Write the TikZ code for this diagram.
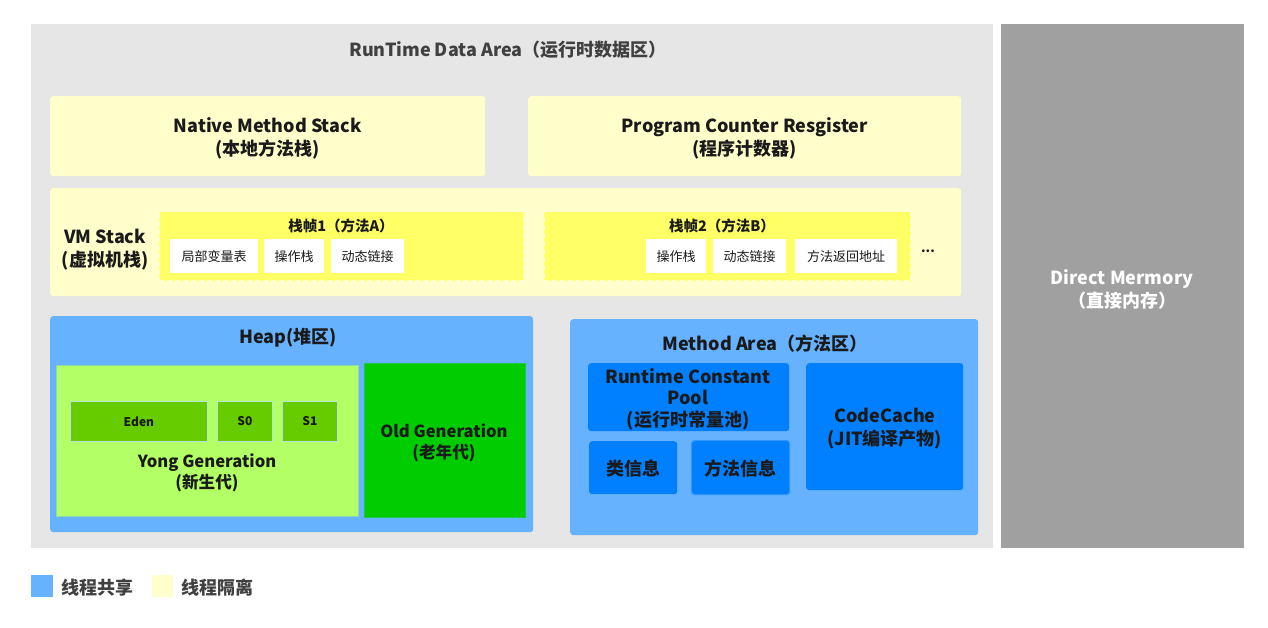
\documentclass[tikz,border=0pt]{standalone}
\usepackage{fontspec}
\setmainfont{Noto Sans CJK SC}
\usetikzlibrary{positioning}
\definecolor{bggray}{HTML}{E6E6E6}
\definecolor{dmgray}{HTML}{A0A0A0}
\definecolor{ltyellow}{HTML}{FFFFCC}
\definecolor{frameyellow}{HTML}{FFFF66}
\definecolor{heapblue}{HTML}{66B2FF}
\definecolor{deepblue}{HTML}{007FFF}
\definecolor{younggreen}{HTML}{B3FF66}
\definecolor{edengreen}{HTML}{66CC00}
\definecolor{oldgreen}{HTML}{00CC00}
\definecolor{txt}{HTML}{1A1A1A}
\definecolor{titlegray}{HTML}{404040}
\tikzset{
  area/.style={draw=none, inner sep=0pt, anchor=north west, rounded corners=3pt},
  sharp/.style={draw=none, inner sep=0pt, anchor=north west},
  big/.style={font=\fontsize{18}{23}\selectfont\bfseries, text=txt, align=center, inner sep=0pt},
  gen/.style={font=\fontsize{16.6}{21}\selectfont\bfseries, text=txt, align=center, inner sep=0pt},
  mid/.style={font=\fontsize{14.5}{17}\selectfont\bfseries, text=txt, align=center, inner sep=0pt},
  small/.style={font=\fontsize{13}{16}\selectfont, text=txt, align=center, inner sep=0pt},
  tiny/.style={font=\fontsize{12}{15}\selectfont\bfseries, text=txt, align=center, inner sep=0pt},
  whitebox/.style={fill=white, draw=none, inner sep=0pt, anchor=north west},
  framebox/.style={fill=frameyellow, draw=white!70!frameyellow, dash pattern=on 5pt off 3pt, line width=1.5pt, inner sep=0pt, anchor=north west},
  cellbox/.style={sharp, fill=edengreen, draw=younggreen!40!heapblue!60!white, line width=0.8pt, minimum height=40pt},
}
\begin{document}
\begin{tikzpicture}[x=1pt,y=-1pt]
\useasboundingbox (0,0) rectangle (1268,628);
\fill[white] (0,0) rectangle (1268,628);
% main areas
\node[sharp, fill=bggray, minimum width=962pt, minimum height=524pt] (rda) at (31,24) {};
\node[sharp, fill=dmgray, minimum width=243pt, minimum height=524pt] (dm) at (1001,24) {};
\node[big, text=titlegray] (rdat) at (508,50) {RunTime Data Area（运行时数据区）};
\node[big, text=white] (dmt) at (1122,289) {Direct Mermory\\（直接内存）};
% native + pc
\node[area, fill=ltyellow, minimum width=435pt, minimum height=80pt] (nms) at (50,96) {};
\node[big] at ([yshift=-2pt]nms.center) {Native Method Stack\\(本地方法栈)};
\node[area, fill=ltyellow, minimum width=433pt, minimum height=80pt] (pcr) at (528,96) {};
\node[big] at ([yshift=-2pt]pcr.center) {Program Counter Resgister\\(程序计数器)};
% VM stack
\node[area, fill=ltyellow, minimum width=911pt, minimum height=108pt] (vms) at (50,188) {};
\node[big] (vmst) at (105,250) {VM Stack\\(虚拟机栈)};
\node[framebox, minimum width=365pt, minimum height=69pt] (f1) at (158,211) {};
\node[mid] (f1t) at (341,226) {栈帧1（方法A）};
\node[whitebox, minimum width=88pt, minimum height=34pt] (lv) at (170,239) {};
\node[small] at (lv.center) {局部变量表};
\node[whitebox, minimum width=60pt, minimum height=34pt] (os1) at (264,239) {};
\node[small] at (os1.center) {操作栈};
\node[whitebox, minimum width=73pt, minimum height=34pt] (dl1) at (331,239) {};
\node[small] at (dl1.center) {动态链接};
\node[framebox, minimum width=367pt, minimum height=69pt] (f2) at (543,211) {};
\node[mid] (f2t) at (722,226) {栈帧2（方法B）};
\node[whitebox, minimum width=60pt, minimum height=34pt] (os2) at (646,239) {};
\node[small] at (os2.center) {操作栈};
\node[whitebox, minimum width=73pt, minimum height=34pt] (dl2) at (713,239) {};
\node[small] at (dl2.center) {动态链接};
\node[whitebox, minimum width=102pt, minimum height=34pt] (ra) at (795,239) {};
\node[small] at (ra.center) {方法返回地址};
\node[small, font=\fontsize{13}{16}\selectfont\bfseries] (dots) at (928,251) {...};
% Heap
\node[area, fill=heapblue, minimum width=483pt, minimum height=216pt] (heap) at (50,316) {};
\node[big] (heapt) at (288,338) {Heap(堆区)};
\node[sharp, fill=younggreen, draw=heapblue!50!younggreen, line width=0.8pt, minimum width=302pt, minimum height=151pt] (yg) at (56,365) {};
\node[cellbox, minimum width=137pt] (eden) at (70,401) {};
\node[tiny] at (eden.center) {Eden};
\node[cellbox, minimum width=55pt] (s0) at (217,401) {};
\node[tiny] at (s0.center) {S0};
\node[cellbox, minimum width=55pt] (s1) at (282,401) {};
\node[tiny] at (s1.center) {S1};
\node[gen] (ygt) at (207,473) {Yong Generation\\(新生代)};
\node[sharp, fill=oldgreen, draw=oldgreen!70!heapblue, line width=0.8pt, minimum width=161pt, minimum height=154pt] (og) at (364,363) {};
\node[gen] at (444,443) {Old Generation\\(老年代)};
% Method area
\node[area, fill=heapblue, minimum width=408pt, minimum height=216pt] (ma) at (570,319) {};
\node[big] (mat) at (765,344) {Method Area（方法区）};
\node[area, fill=deepblue, minimum width=201pt, minimum height=68pt] (rcp) at (588,363) {};
\node[big, font=\fontsize{18}{21.5}\selectfont\bfseries] at (688,399) {Runtime Constant\\Pool\\(运行时常量池)};
\node[area, fill=deepblue, minimum width=88pt, minimum height=53pt] (ci) at (589,441) {};
\node[big] at ([yshift=-1pt]ci.center) {类信息};
\node[area, fill=deepblue, draw=deepblue!55!heapblue, line width=1.2pt, minimum width=98pt, minimum height=54pt] (mi) at (691,440) {};
\node[big] at ([yshift=-1pt]mi.center) {方法信息};
\node[area, fill=deepblue, minimum width=157pt, minimum height=127pt] (cc) at (806,363) {};
\node[big] at (885,429) {CodeCache\\(JIT编译产物)};
% legend
\node[sharp, fill=heapblue, minimum width=22pt, minimum height=22pt] (lg1) at (31,575) {};
\node[big, text=titlegray, anchor=west] (lg1t) at (61,588) {线程共享};
\node[sharp, fill=ltyellow, minimum width=21pt, minimum height=22pt] (lg2) at (152,575) {};
\node[big, text=titlegray, anchor=west] (lg2t) at (181,588) {线程隔离};
\end{tikzpicture}
\end{document}
